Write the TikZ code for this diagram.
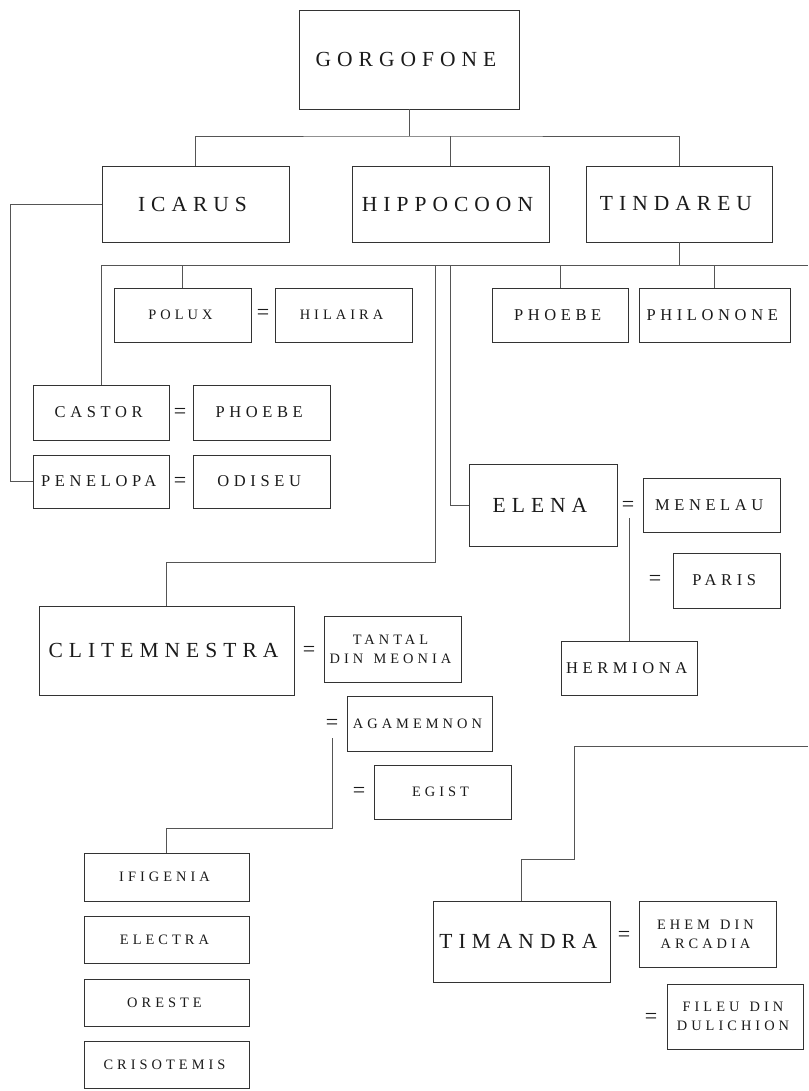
\documentclass[tikz,border=0pt]{standalone}
\usepackage{fontspec}
\setmainfont{Liberation Serif}
\newfontfamily\lsp{Liberation Serif}[LetterSpace=28]
\newcommand\ls[1]{\kern-0.28em#1}
\newcommand\wsp{\hspace{0.18em}}
\definecolor{boxc}{HTML}{333333}
\definecolor{linec}{HTML}{555555}
\definecolor{txt}{HTML}{1a1a1a}
\begin{document}
\begin{tikzpicture}[x=1pt,y=-1pt,
  box/.style={draw=boxc, line width=0.8pt, inner sep=0pt, text=txt, align=center},
  sz/.style 2 args={minimum width=#1pt, minimum height=#2pt},
  big/.style={font=\lsp\fontsize{21.5}{24}\selectfont},
  med/.style={font=\lsp\fontsize{16.5}{19}\selectfont},
  sml/.style={font=\lsp\fontsize{14.4}{19}\selectfont},
  eq/.style={font=\fontsize{22}{22}\selectfont, inner sep=0pt, text=txt},
  link/.style={draw=linec, line width=0.8pt}]
\useasboundingbox (0,0) rectangle (808,1091);

% generation 1
\node[box,big,sz={220}{99}] (gor) at (409,59.5) {\ls{GORGOFONE}};
% generation 2
\node[box,big,sz={187}{76}] (ica) at (195.5,204) {\ls{ICARUS}};
\node[box,big,sz={197}{76}] (hip) at (450.5,204) {\ls{HIPPOCOON}};
\node[box,big,sz={186}{76}] (tin) at (679,204) {\ls{TINDAREU}};
% children of Tindareu
\node[box,sml,sz={137}{54}] (pol) at (182.5,315) {\ls{POLUX}};
\node[box,sml,sz={137}{54}] (hil) at (343.5,315) {\ls{HILAIRA}};
\node[box,med,sz={136}{55}] (cas) at (101,412.5) {\ls{CASTOR}};
\node[box,med,sz={137}{55}] (phoa) at (261.5,412.5) {\ls{PHOEBE}};
\node[box,med,sz={136}{53}] (pen) at (101,481.5) {\ls{PENELOPA}};
\node[box,med,sz={137}{53}] (odi) at (261.5,481.5) {\ls{ODISEU}};
\node[box,med,sz={136}{54}] (phob) at (560,315) {\ls{PHOEBE}};
\node[box,med,sz={151}{54}] (phi) at (714.5,315) {\ls{PHILONONE}};
\node[box,big,sz={148}{82}] (ele) at (543,505) {\ls{ELENA}};
\node[box,med,sz={137}{54}] (men) at (711.5,505) {\ls{MENELAU}};
\node[box,med,sz={107}{55}] (par) at (726.5,580.5) {\ls{PARIS}};
\node[box,med,sz={136}{54}] (her) at (629,668) {\ls{HERMIONA}};
\node[box,big,sz={255}{89}] (cli) at (166.5,650.5) {\ls{CLITEMNESTRA}};
\node[box,sml,sz={137}{66}] (tan) at (392.5,649) {\ls{TANTAL}\\\ls{DIN \wsp MEONIA}};
\node[box,sml,sz={145}{55}] (aga) at (419.5,723.5) {\ls{AGAMEMNON}};
\node[box,sml,sz={137}{54}] (egi) at (442.5,792) {\ls{EGIST}};
\node[box,sml,sz={165}{48}] (ifi) at (166.5,877) {\ls{IFIGENIA}};
\node[box,sml,sz={165}{47}] (elc) at (166.5,939.5) {\ls{ELECTRA}};
\node[box,sml,sz={165}{47}] (ore) at (166.5,1002.5) {\ls{ORESTE}};
\node[box,sml,sz={165}{47}] (cri) at (166.5,1064.5) {\ls{CRISOTEMIS}};
\node[box,big,sz={177}{81}] (tim) at (521.5,941.5) {\ls{TIMANDRA}};
\node[box,sml,sz={137}{66}] (ehe) at (707.5,934) {\ls{EHEM \wsp DIN}\\\ls{ARCADIA}};
\node[box,sml,sz={136}{65}] (fil) at (735,1016.5) {\ls{FILEU \wsp DIN}\\\ls{DULICHION}};

% marriage signs
\node[eq] (eq1) at (263,314) {=};
\node[eq] (eq2) at (180,413) {=};
\node[eq] (eq3) at (180,482) {=};
\node[eq] (eq4) at (628,506) {=};
\node[eq] (eq5) at (655,580) {=};
\node[eq] (eq6) at (309,651) {=};
\node[eq] (eq7) at (332,724) {=};
\node[eq] (eq8) at (359,792) {=};
\node[eq] (eq9) at (624,936) {=};
\node[eq] (eq10) at (651,1018) {=};

% junction coordinates
\coordinate (j1) at (409,136);
\coordinate (r1) at (808,265);
\coordinate (k1) at (435,265);
\coordinate (k2) at (435,562);
\coordinate (k3) at (450,265);
\coordinate (icl) at (10,204);
\coordinate (e1) at (629,518);
\coordinate (c1) at (332,738);
\coordinate (c2) at (332,828);
\coordinate (t0) at (808,746);
\coordinate (t1) at (574,746);
\coordinate (t2) at (574,859);

% Gorgofone's children
\draw[link] (gor.south) -- (j1);
\draw[link] (ica.north) |- (j1) -| (tin.north);
\draw[link] (hip.north) -- (hip.north |- j1);
% Icarus -> Penelopa
\draw[link] (ica.west) -- (icl) |- (pen.west);
% Tindareu's children
\draw[link] (tin.south) -- (tin.south |- r1);
\draw[link] (cas.north) |- (r1);
\draw[link] (pol.north) -- (pol.north |- r1);
\draw[link] (phob.north) -- (phob.north |- r1);
\draw[link] (phi.north) -- (phi.north |- r1);
\draw[link] (k1) -- (k2) -| (cli.north);
\draw[link] (k3) |- (ele.west);
% Elena -> Hermiona
\draw[link] (e1) -- (her.north);
% Clitemnestra's children
\draw[link] (c1) -- (c2) -| (ifi.north);
% Timandra
\draw[link] (t0) -- (t1) -- (t2) -| (tim.north);
\end{tikzpicture}
\end{document}
